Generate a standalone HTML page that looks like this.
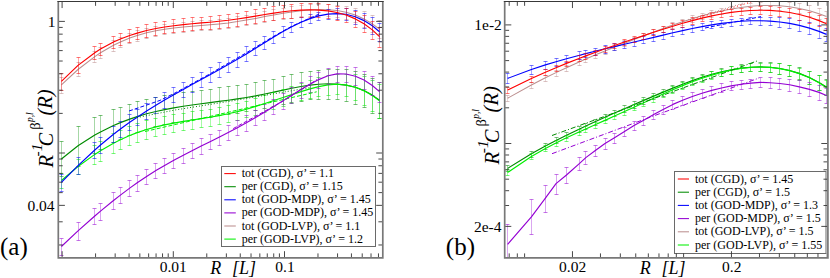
<!DOCTYPE html>
<html><head><meta charset="utf-8"><title>chart</title>
<style>html,body{margin:0;padding:0;background:#fff;}svg{display:block;}text{font-family:"Liberation Serif",serif;fill:#000;}</style></head>
<body><svg width="830" height="278" viewBox="0 0 830 278">
<rect width="830" height="278" fill="#fff"/>
<defs><clipPath id="cl"><rect x="58.3" y="1.45" width="324.5" height="256.4"/></clipPath><clipPath id="cr"><rect x="504.7" y="1.45" width="323.2" height="256.4"/></clipPath></defs>
<g clip-path="url(#cl)">
<path d="M61.5 141.5L61.5 176.5M78.5 126.5L78.5 166.5M94.5 117.5L94.5 153.5M100.5 115.5L100.5 149.5M113.5 109.5L113.5 142.5M120.5 107.5L120.5 139.5M129.5 104.5L129.5 135.5M137.5 101.5L137.5 132.5M146.5 99.5L146.5 129.5M155.5 97.5L155.5 126.5M164.5 95.5L164.5 124.5M173.5 94.5L173.5 122.5M183.5 92.5L183.5 121.5M192.5 91.5L192.5 119.5M201.5 90.5L201.5 118.5M210.5 89.5L210.5 117.5M219.5 87.5L219.5 115.5M228.5 86.5L228.5 114.5M237.5 85.5L237.5 113.5M246.5 84.5L246.5 111.5M255.5 82.5L255.5 110.5M264.5 80.5L264.5 108.5M273.5 79.5L273.5 106.5M283.5 76.5L283.5 104.5M291.5 74.5L291.5 102.5M301.5 72.5L301.5 101.5M310.5 71.5L310.5 99.5M318.5 70.5L318.5 99.5M328.5 69.5L328.5 99.5M337.5 69.5L337.5 99.5M346.5 69.5L346.5 101.5M355.5 71.5L355.5 104.5M364.5 74.5L364.5 107.5M372.5 78.5L372.5 113.5M379.5 82.5L379.5 118.5" stroke="#008b00" stroke-width="1" stroke-opacity="0.35" fill="none"/>
<path d="M59.5 141.5L63.5 141.5M59.5 176.5L63.5 176.5M76.5 126.5L80.5 126.5M76.5 166.5L80.5 166.5M92.5 117.5L96.5 117.5M92.5 153.5L96.5 153.5M98.5 115.5L102.5 115.5M98.5 149.5L102.5 149.5M111.5 109.5L115.5 109.5M111.5 142.5L115.5 142.5M118.5 107.5L122.5 107.5M118.5 139.5L122.5 139.5M127.5 104.5L131.5 104.5M127.5 135.5L131.5 135.5M135.5 101.5L139.5 101.5M135.5 132.5L139.5 132.5M144.5 99.5L148.5 99.5M144.5 129.5L148.5 129.5M153.5 97.5L157.5 97.5M153.5 126.5L157.5 126.5M162.5 95.5L166.5 95.5M162.5 124.5L166.5 124.5M171.5 94.5L175.5 94.5M171.5 122.5L175.5 122.5M181.5 92.5L185.5 92.5M181.5 121.5L185.5 121.5M190.5 91.5L194.5 91.5M190.5 119.5L194.5 119.5M199.5 90.5L203.5 90.5M199.5 118.5L203.5 118.5M208.5 89.5L212.5 89.5M208.5 117.5L212.5 117.5M217.5 87.5L221.5 87.5M217.5 115.5L221.5 115.5M226.5 86.5L230.5 86.5M226.5 114.5L230.5 114.5M235.5 85.5L239.5 85.5M235.5 113.5L239.5 113.5M244.5 84.5L248.5 84.5M244.5 111.5L248.5 111.5M253.5 82.5L257.5 82.5M253.5 110.5L257.5 110.5M262.5 80.5L266.5 80.5M262.5 108.5L266.5 108.5M271.5 79.5L275.5 79.5M271.5 106.5L275.5 106.5M281.5 76.5L285.5 76.5M281.5 104.5L285.5 104.5M289.5 74.5L293.5 74.5M289.5 102.5L293.5 102.5M299.5 72.5L303.5 72.5M299.5 101.5L303.5 101.5M308.5 71.5L312.5 71.5M308.5 99.5L312.5 99.5M316.5 70.5L320.5 70.5M316.5 99.5L320.5 99.5M326.5 69.5L330.5 69.5M326.5 99.5L330.5 99.5M335.5 69.5L339.5 69.5M335.5 99.5L339.5 99.5M344.5 69.5L348.5 69.5M344.5 101.5L348.5 101.5M353.5 71.5L357.5 71.5M353.5 104.5L357.5 104.5M362.5 74.5L366.5 74.5M362.5 107.5L366.5 107.5M370.5 78.5L374.5 78.5M370.5 113.5L374.5 113.5M377.5 82.5L381.5 82.5M377.5 118.5L381.5 118.5" stroke="#008b00" stroke-width="1" stroke-opacity="0.54" fill="none"/>
<path d="M61.4 159.0L78.0 145.8L94.8 135.0L100.5 131.9L113.5 125.5L120.4 122.6L129.7 119.1L137.2 116.6L146.6 113.8L155.9 111.5L164.6 109.6L173.8 107.9L183.3 106.3L192.0 105.0L201.2 103.7L210.0 102.6L219.0 101.4L228.2 100.2L237.4 98.9L246.4 97.5L255.6 95.9L264.9 94.0L273.8 92.1L283.0 90.1L291.8 88.2L301.0 86.5L310.0 85.1L318.7 84.2L328.0 83.8L337.0 84.1L346.0 85.1L355.4 87.3L364.0 90.6L372.3 95.1L379.5 100.3" stroke="#008b00" stroke-width="1.15" fill="none" stroke-linejoin="round"/>
<path d="M61.5 173.5L61.5 188.5M78.5 159.5L78.5 174.5M94.5 145.5L94.5 164.5M100.5 141.5L100.5 161.5M113.5 133.5L113.5 153.5M120.5 130.5L120.5 149.5M129.5 126.5L129.5 145.5M137.5 123.5L137.5 142.5M146.5 120.5L146.5 139.5M155.5 118.5L155.5 136.5M164.5 116.5L164.5 134.5M173.5 114.5L173.5 132.5M183.5 113.5L183.5 130.5M192.5 111.5L192.5 129.5M201.5 110.5L201.5 127.5M210.5 109.5L210.5 126.5M219.5 107.5L219.5 124.5M228.5 105.5L228.5 122.5M237.5 103.5L237.5 120.5M246.5 101.5L246.5 117.5M255.5 98.5L255.5 115.5M264.5 95.5L264.5 112.5M273.5 92.5L273.5 109.5M283.5 89.5L283.5 106.5M291.5 86.5L291.5 103.5M301.5 83.5L301.5 100.5M310.5 80.5L310.5 98.5M318.5 77.5L318.5 96.5M328.5 75.5L328.5 95.5M337.5 74.5L337.5 94.5M346.5 74.5L346.5 96.5M355.5 74.5L355.5 100.5M364.5 76.5L364.5 105.5M372.5 80.5L372.5 111.5M379.5 84.5L379.5 118.5" stroke="#00f000" stroke-width="1" stroke-opacity="0.35" fill="none"/>
<path d="M59.5 173.5L63.5 173.5M59.5 188.5L63.5 188.5M76.5 159.5L80.5 159.5M76.5 174.5L80.5 174.5M92.5 145.5L96.5 145.5M92.5 164.5L96.5 164.5M98.5 141.5L102.5 141.5M98.5 161.5L102.5 161.5M111.5 133.5L115.5 133.5M111.5 153.5L115.5 153.5M118.5 130.5L122.5 130.5M118.5 149.5L122.5 149.5M127.5 126.5L131.5 126.5M127.5 145.5L131.5 145.5M135.5 123.5L139.5 123.5M135.5 142.5L139.5 142.5M144.5 120.5L148.5 120.5M144.5 139.5L148.5 139.5M153.5 118.5L157.5 118.5M153.5 136.5L157.5 136.5M162.5 116.5L166.5 116.5M162.5 134.5L166.5 134.5M171.5 114.5L175.5 114.5M171.5 132.5L175.5 132.5M181.5 113.5L185.5 113.5M181.5 130.5L185.5 130.5M190.5 111.5L194.5 111.5M190.5 129.5L194.5 129.5M199.5 110.5L203.5 110.5M199.5 127.5L203.5 127.5M208.5 109.5L212.5 109.5M208.5 126.5L212.5 126.5M217.5 107.5L221.5 107.5M217.5 124.5L221.5 124.5M226.5 105.5L230.5 105.5M226.5 122.5L230.5 122.5M235.5 103.5L239.5 103.5M235.5 120.5L239.5 120.5M244.5 101.5L248.5 101.5M244.5 117.5L248.5 117.5M253.5 98.5L257.5 98.5M253.5 115.5L257.5 115.5M262.5 95.5L266.5 95.5M262.5 112.5L266.5 112.5M271.5 92.5L275.5 92.5M271.5 109.5L275.5 109.5M281.5 89.5L285.5 89.5M281.5 106.5L285.5 106.5M289.5 86.5L293.5 86.5M289.5 103.5L293.5 103.5M299.5 83.5L303.5 83.5M299.5 100.5L303.5 100.5M308.5 80.5L312.5 80.5M308.5 98.5L312.5 98.5M316.5 77.5L320.5 77.5M316.5 96.5L320.5 96.5M326.5 75.5L330.5 75.5M326.5 95.5L330.5 95.5M335.5 74.5L339.5 74.5M335.5 94.5L339.5 94.5M344.5 74.5L348.5 74.5M344.5 96.5L348.5 96.5M353.5 74.5L357.5 74.5M353.5 100.5L357.5 100.5M362.5 76.5L366.5 76.5M362.5 105.5L366.5 105.5M370.5 80.5L374.5 80.5M370.5 111.5L374.5 111.5M377.5 84.5L381.5 84.5M377.5 118.5L381.5 118.5" stroke="#00f000" stroke-width="1" stroke-opacity="0.54" fill="none"/>
<path d="M61.4 180.5L78.0 166.5L94.8 154.4L100.5 150.7L113.5 143.2L120.4 139.7L129.7 135.5L137.2 132.6L146.6 129.5L155.9 126.9L164.6 124.9L173.8 123.1L183.3 121.4L192.0 120.0L201.2 118.6L210.0 117.2L219.0 115.6L228.2 113.8L237.4 111.6L246.4 109.2L255.6 106.4L264.9 103.5L273.8 100.5L283.0 97.5L291.8 94.6L301.0 91.6L310.0 88.9L318.7 86.6L328.0 84.9L337.0 84.3L346.0 85.0L355.4 87.2L364.0 90.7L372.3 95.5L379.5 100.9" stroke="#00f000" stroke-width="1.15" fill="none" stroke-linejoin="round"/>
<path d="M61.5 238.5L61.5 255.5M78.5 222.5L78.5 240.5M94.5 208.5L94.5 224.5M100.5 203.5L100.5 220.5M113.5 192.5L113.5 209.5M120.5 187.5L120.5 203.5M129.5 180.5L129.5 196.5M137.5 175.5L137.5 191.5M146.5 169.5L146.5 184.5M155.5 163.5L155.5 178.5M164.5 158.5L164.5 173.5M173.5 153.5L173.5 168.5M183.5 148.5L183.5 163.5M192.5 143.5L192.5 158.5M201.5 138.5L201.5 154.5M210.5 134.5L210.5 149.5M219.5 130.5L219.5 145.5M228.5 125.5L228.5 140.5M237.5 120.5L237.5 135.5M246.5 115.5L246.5 131.5M255.5 110.5L255.5 125.5M264.5 104.5L264.5 120.5M273.5 99.5L273.5 114.5M283.5 93.5L283.5 109.5M291.5 87.5L291.5 103.5M301.5 82.5L301.5 98.5M310.5 76.5L310.5 92.5M318.5 72.5L318.5 88.5M328.5 68.5L328.5 84.5M337.5 66.5L337.5 82.5M346.5 66.5L346.5 82.5M355.5 67.5L355.5 85.5M364.5 71.5L364.5 89.5M372.5 76.5L372.5 95.5M379.5 82.5L379.5 102.5" stroke="#9400d3" stroke-width="1" stroke-opacity="0.35" fill="none"/>
<path d="M59.5 238.5L63.5 238.5M59.5 255.5L63.5 255.5M76.5 222.5L80.5 222.5M76.5 240.5L80.5 240.5M92.5 208.5L96.5 208.5M92.5 224.5L96.5 224.5M98.5 203.5L102.5 203.5M98.5 220.5L102.5 220.5M111.5 192.5L115.5 192.5M111.5 209.5L115.5 209.5M118.5 187.5L122.5 187.5M118.5 203.5L122.5 203.5M127.5 180.5L131.5 180.5M127.5 196.5L131.5 196.5M135.5 175.5L139.5 175.5M135.5 191.5L139.5 191.5M144.5 169.5L148.5 169.5M144.5 184.5L148.5 184.5M153.5 163.5L157.5 163.5M153.5 178.5L157.5 178.5M162.5 158.5L166.5 158.5M162.5 173.5L166.5 173.5M171.5 153.5L175.5 153.5M171.5 168.5L175.5 168.5M181.5 148.5L185.5 148.5M181.5 163.5L185.5 163.5M190.5 143.5L194.5 143.5M190.5 158.5L194.5 158.5M199.5 138.5L203.5 138.5M199.5 154.5L203.5 154.5M208.5 134.5L212.5 134.5M208.5 149.5L212.5 149.5M217.5 130.5L221.5 130.5M217.5 145.5L221.5 145.5M226.5 125.5L230.5 125.5M226.5 140.5L230.5 140.5M235.5 120.5L239.5 120.5M235.5 135.5L239.5 135.5M244.5 115.5L248.5 115.5M244.5 131.5L248.5 131.5M253.5 110.5L257.5 110.5M253.5 125.5L257.5 125.5M262.5 104.5L266.5 104.5M262.5 120.5L266.5 120.5M271.5 99.5L275.5 99.5M271.5 114.5L275.5 114.5M281.5 93.5L285.5 93.5M281.5 109.5L285.5 109.5M289.5 87.5L293.5 87.5M289.5 103.5L293.5 103.5M299.5 82.5L303.5 82.5M299.5 98.5L303.5 98.5M308.5 76.5L312.5 76.5M308.5 92.5L312.5 92.5M316.5 72.5L320.5 72.5M316.5 88.5L320.5 88.5M326.5 68.5L330.5 68.5M326.5 84.5L330.5 84.5M335.5 66.5L339.5 66.5M335.5 82.5L339.5 82.5M344.5 66.5L348.5 66.5M344.5 82.5L348.5 82.5M353.5 67.5L357.5 67.5M353.5 85.5L357.5 85.5M362.5 71.5L366.5 71.5M362.5 89.5L366.5 89.5M370.5 76.5L374.5 76.5M370.5 95.5L374.5 95.5M377.5 82.5L381.5 82.5M377.5 102.5L381.5 102.5" stroke="#9400d3" stroke-width="1" stroke-opacity="0.54" fill="none"/>
<path d="M61.4 246.5L78.0 230.9L94.8 216.0L100.5 211.1L113.5 200.5L120.4 195.1L129.7 188.1L137.2 182.7L146.6 176.4L155.9 170.6L164.6 165.4L173.8 160.3L183.3 155.2L192.0 150.7L201.2 146.1L210.0 141.7L219.0 137.2L228.2 132.5L237.4 127.7L246.4 122.8L255.6 117.5L264.9 112.0L273.8 106.5L283.0 100.8L291.8 95.3L301.0 89.6L310.0 84.2L318.7 79.6L328.0 75.8L337.0 73.9L346.0 74.0L355.4 76.2L364.0 80.1L372.3 85.5L379.5 91.6" stroke="#9400d3" stroke-width="1.15" fill="none" stroke-linejoin="round"/>
<path d="M61.5 77.5L61.5 93.5M78.5 62.5L78.5 76.5M94.5 51.5L94.5 62.5M100.5 47.5L100.5 58.5M113.5 40.5L113.5 51.5M120.5 37.5L120.5 47.5M129.5 33.5L129.5 43.5M137.5 30.5L137.5 41.5M146.5 28.5L146.5 38.5M155.5 26.5L155.5 36.5M164.5 24.5L164.5 34.5M173.5 23.5L173.5 33.5M183.5 22.5L183.5 32.5M192.5 21.5L192.5 31.5M201.5 20.5L201.5 30.5M210.5 20.5L210.5 30.5M219.5 19.5L219.5 29.5M228.5 18.5L228.5 28.5M237.5 16.5L237.5 27.5M246.5 15.5L246.5 25.5M255.5 13.5L255.5 24.5M264.5 11.5L264.5 22.5M273.5 9.5L273.5 20.5M283.5 8.5L283.5 19.5M291.5 6.5L291.5 18.5M301.5 5.5L301.5 16.5M310.5 4.5L310.5 16.5M318.5 4.5L318.5 15.5M328.5 4.5L328.5 16.5M337.5 5.5L337.5 17.5M346.5 6.5L346.5 19.5M355.5 8.5L355.5 22.5M364.5 11.5L364.5 27.5M372.5 15.5L372.5 32.5M379.5 20.5L379.5 38.5" stroke="#bc8f8f" stroke-width="1" stroke-opacity="0.35" fill="none"/>
<path d="M59.5 77.5L63.5 77.5M59.5 93.5L63.5 93.5M76.5 62.5L80.5 62.5M76.5 76.5L80.5 76.5M92.5 51.5L96.5 51.5M92.5 62.5L96.5 62.5M98.5 47.5L102.5 47.5M98.5 58.5L102.5 58.5M111.5 40.5L115.5 40.5M111.5 51.5L115.5 51.5M118.5 37.5L122.5 37.5M118.5 47.5L122.5 47.5M127.5 33.5L131.5 33.5M127.5 43.5L131.5 43.5M135.5 30.5L139.5 30.5M135.5 41.5L139.5 41.5M144.5 28.5L148.5 28.5M144.5 38.5L148.5 38.5M153.5 26.5L157.5 26.5M153.5 36.5L157.5 36.5M162.5 24.5L166.5 24.5M162.5 34.5L166.5 34.5M171.5 23.5L175.5 23.5M171.5 33.5L175.5 33.5M181.5 22.5L185.5 22.5M181.5 32.5L185.5 32.5M190.5 21.5L194.5 21.5M190.5 31.5L194.5 31.5M199.5 20.5L203.5 20.5M199.5 30.5L203.5 30.5M208.5 20.5L212.5 20.5M208.5 30.5L212.5 30.5M217.5 19.5L221.5 19.5M217.5 29.5L221.5 29.5M226.5 18.5L230.5 18.5M226.5 28.5L230.5 28.5M235.5 16.5L239.5 16.5M235.5 27.5L239.5 27.5M244.5 15.5L248.5 15.5M244.5 25.5L248.5 25.5M253.5 13.5L257.5 13.5M253.5 24.5L257.5 24.5M262.5 11.5L266.5 11.5M262.5 22.5L266.5 22.5M271.5 9.5L275.5 9.5M271.5 20.5L275.5 20.5M281.5 8.5L285.5 8.5M281.5 19.5L285.5 19.5M289.5 6.5L293.5 6.5M289.5 18.5L293.5 18.5M299.5 5.5L303.5 5.5M299.5 16.5L303.5 16.5M308.5 4.5L312.5 4.5M308.5 16.5L312.5 16.5M316.5 4.5L320.5 4.5M316.5 15.5L320.5 15.5M326.5 4.5L330.5 4.5M326.5 16.5L330.5 16.5M335.5 5.5L339.5 5.5M335.5 17.5L339.5 17.5M344.5 6.5L348.5 6.5M344.5 19.5L348.5 19.5M353.5 8.5L357.5 8.5M353.5 22.5L357.5 22.5M362.5 11.5L366.5 11.5M362.5 27.5L366.5 27.5M370.5 15.5L374.5 15.5M370.5 32.5L374.5 32.5M377.5 20.5L381.5 20.5M377.5 38.5L381.5 38.5" stroke="#bc8f8f" stroke-width="1" stroke-opacity="0.54" fill="none"/>
<path d="M61.4 84.9L78.0 69.5L94.8 56.6L100.5 52.8L113.5 45.3L120.4 42.0L129.7 38.1L137.2 35.5L146.6 32.8L155.9 30.8L164.6 29.2L173.8 28.0L183.3 26.9L192.0 26.2L201.2 25.4L210.0 24.7L219.0 23.9L228.2 22.9L237.4 21.6L246.4 20.1L255.6 18.4L264.9 16.6L273.8 14.9L283.0 13.3L291.8 11.9L301.0 10.7L310.0 9.9L318.7 9.6L328.0 9.8L337.0 10.6L346.0 12.3L355.4 15.1L364.0 18.9L372.3 23.8L379.5 29.2" stroke="#bc8f8f" stroke-width="1.05" fill="none" stroke-linejoin="round"/>
<path d="M61.5 174.5L61.5 191.5M78.5 157.5L78.5 174.5M94.5 142.5L94.5 158.5M100.5 137.5L100.5 153.5M113.5 126.5L113.5 142.5M120.5 121.5L120.5 137.5M129.5 114.5L129.5 130.5M137.5 109.5L137.5 125.5M146.5 103.5L146.5 119.5M155.5 97.5L155.5 113.5M164.5 92.5L164.5 108.5M173.5 87.5L173.5 102.5M183.5 82.5L183.5 97.5M192.5 77.5L192.5 92.5M201.5 72.5L201.5 87.5M210.5 67.5L210.5 82.5M219.5 62.5L219.5 77.5M228.5 57.5L228.5 72.5M237.5 52.5L237.5 67.5M246.5 46.5L246.5 61.5M255.5 41.5L255.5 55.5M264.5 36.5L264.5 49.5M273.5 31.5L273.5 43.5M283.5 26.5L283.5 37.5M291.5 22.5L291.5 32.5M301.5 17.5L301.5 27.5M310.5 14.5L310.5 23.5M318.5 12.5L318.5 20.5M328.5 9.5L328.5 19.5M337.5 8.5L337.5 19.5M346.5 8.5L346.5 20.5M355.5 10.5L355.5 24.5M364.5 13.5L364.5 28.5M372.5 17.5L372.5 34.5M379.5 23.5L379.5 41.5" stroke="#0000ff" stroke-width="1" stroke-opacity="0.35" fill="none"/>
<path d="M59.5 174.5L63.5 174.5M59.5 191.5L63.5 191.5M76.5 157.5L80.5 157.5M76.5 174.5L80.5 174.5M92.5 142.5L96.5 142.5M92.5 158.5L96.5 158.5M98.5 137.5L102.5 137.5M98.5 153.5L102.5 153.5M111.5 126.5L115.5 126.5M111.5 142.5L115.5 142.5M118.5 121.5L122.5 121.5M118.5 137.5L122.5 137.5M127.5 114.5L131.5 114.5M127.5 130.5L131.5 130.5M135.5 109.5L139.5 109.5M135.5 125.5L139.5 125.5M144.5 103.5L148.5 103.5M144.5 119.5L148.5 119.5M153.5 97.5L157.5 97.5M153.5 113.5L157.5 113.5M162.5 92.5L166.5 92.5M162.5 108.5L166.5 108.5M171.5 87.5L175.5 87.5M171.5 102.5L175.5 102.5M181.5 82.5L185.5 82.5M181.5 97.5L185.5 97.5M190.5 77.5L194.5 77.5M190.5 92.5L194.5 92.5M199.5 72.5L203.5 72.5M199.5 87.5L203.5 87.5M208.5 67.5L212.5 67.5M208.5 82.5L212.5 82.5M217.5 62.5L221.5 62.5M217.5 77.5L221.5 77.5M226.5 57.5L230.5 57.5M226.5 72.5L230.5 72.5M235.5 52.5L239.5 52.5M235.5 67.5L239.5 67.5M244.5 46.5L248.5 46.5M244.5 61.5L248.5 61.5M253.5 41.5L257.5 41.5M253.5 55.5L257.5 55.5M262.5 36.5L266.5 36.5M262.5 49.5L266.5 49.5M271.5 31.5L275.5 31.5M271.5 43.5L275.5 43.5M281.5 26.5L285.5 26.5M281.5 37.5L285.5 37.5M289.5 22.5L293.5 22.5M289.5 32.5L293.5 32.5M299.5 17.5L303.5 17.5M299.5 27.5L303.5 27.5M308.5 14.5L312.5 14.5M308.5 23.5L312.5 23.5M316.5 12.5L320.5 12.5M316.5 20.5L320.5 20.5M326.5 9.5L330.5 9.5M326.5 19.5L330.5 19.5M335.5 8.5L339.5 8.5M335.5 19.5L339.5 19.5M344.5 8.5L348.5 8.5M344.5 20.5L348.5 20.5M353.5 10.5L357.5 10.5M353.5 24.5L357.5 24.5M362.5 13.5L366.5 13.5M362.5 28.5L366.5 28.5M370.5 17.5L374.5 17.5M370.5 34.5L374.5 34.5M377.5 23.5L381.5 23.5M377.5 41.5L381.5 41.5" stroke="#0000ff" stroke-width="1" stroke-opacity="0.54" fill="none"/>
<path d="M61.4 182.4L78.0 165.7L94.8 150.0L100.5 145.0L113.5 134.3L120.4 129.0L129.7 122.3L137.2 117.2L146.6 111.0L155.9 105.2L164.6 100.0L173.8 94.7L183.3 89.4L192.0 84.6L201.2 79.6L210.0 74.8L219.0 69.8L228.2 64.6L237.4 59.3L246.4 54.0L255.6 48.3L264.9 42.4L273.8 37.0L283.0 31.5L291.8 26.7L301.0 22.3L310.0 18.6L318.7 15.9L328.0 14.1L337.0 13.6L346.0 14.3L355.4 16.8L364.0 20.6L372.3 25.8L379.5 31.7" stroke="#0000ff" stroke-width="1.15" fill="none" stroke-linejoin="round"/>
<path d="M61.5 73.5L61.5 90.5M78.5 57.5L78.5 73.5M94.5 46.5L94.5 59.5M100.5 43.5L100.5 55.5M113.5 36.5L113.5 48.5M120.5 33.5L120.5 45.5M129.5 29.5L129.5 42.5M137.5 27.5L137.5 39.5M146.5 24.5L146.5 37.5M155.5 22.5L155.5 35.5M164.5 21.5L164.5 33.5M173.5 19.5L173.5 32.5M183.5 18.5L183.5 31.5M192.5 17.5L192.5 30.5M201.5 17.5L201.5 29.5M210.5 16.5L210.5 29.5M219.5 15.5L219.5 28.5M228.5 14.5L228.5 27.5M237.5 13.5L237.5 26.5M246.5 11.5L246.5 24.5M255.5 9.5L255.5 23.5M264.5 8.5L264.5 21.5M273.5 6.5L273.5 20.5M283.5 5.5L283.5 18.5M291.5 4.5L291.5 18.5M301.5 3.5L301.5 17.5M310.5 3.5L310.5 17.5M318.5 3.5L318.5 17.5M328.5 4.5L328.5 18.5M337.5 6.5L337.5 20.5M346.5 8.5L346.5 22.5M355.5 11.5L355.5 27.5M364.5 15.5L364.5 32.5M372.5 21.5L372.5 39.5M379.5 27.5L379.5 47.5" stroke="#ff0000" stroke-width="1" stroke-opacity="0.35" fill="none"/>
<path d="M59.5 73.5L63.5 73.5M59.5 90.5L63.5 90.5M76.5 57.5L80.5 57.5M76.5 73.5L80.5 73.5M92.5 46.5L96.5 46.5M92.5 59.5L96.5 59.5M98.5 43.5L102.5 43.5M98.5 55.5L102.5 55.5M111.5 36.5L115.5 36.5M111.5 48.5L115.5 48.5M118.5 33.5L122.5 33.5M118.5 45.5L122.5 45.5M127.5 29.5L131.5 29.5M127.5 42.5L131.5 42.5M135.5 27.5L139.5 27.5M135.5 39.5L139.5 39.5M144.5 24.5L148.5 24.5M144.5 37.5L148.5 37.5M153.5 22.5L157.5 22.5M153.5 35.5L157.5 35.5M162.5 21.5L166.5 21.5M162.5 33.5L166.5 33.5M171.5 19.5L175.5 19.5M171.5 32.5L175.5 32.5M181.5 18.5L185.5 18.5M181.5 31.5L185.5 31.5M190.5 17.5L194.5 17.5M190.5 30.5L194.5 30.5M199.5 17.5L203.5 17.5M199.5 29.5L203.5 29.5M208.5 16.5L212.5 16.5M208.5 29.5L212.5 29.5M217.5 15.5L221.5 15.5M217.5 28.5L221.5 28.5M226.5 14.5L230.5 14.5M226.5 27.5L230.5 27.5M235.5 13.5L239.5 13.5M235.5 26.5L239.5 26.5M244.5 11.5L248.5 11.5M244.5 24.5L248.5 24.5M253.5 9.5L257.5 9.5M253.5 23.5L257.5 23.5M262.5 8.5L266.5 8.5M262.5 21.5L266.5 21.5M271.5 6.5L275.5 6.5M271.5 20.5L275.5 20.5M281.5 5.5L285.5 5.5M281.5 18.5L285.5 18.5M289.5 4.5L293.5 4.5M289.5 18.5L293.5 18.5M299.5 3.5L303.5 3.5M299.5 17.5L303.5 17.5M308.5 3.5L312.5 3.5M308.5 17.5L312.5 17.5M316.5 3.5L320.5 3.5M316.5 17.5L320.5 17.5M326.5 4.5L330.5 4.5M326.5 18.5L330.5 18.5M335.5 6.5L339.5 6.5M335.5 20.5L339.5 20.5M344.5 8.5L348.5 8.5M344.5 22.5L348.5 22.5M353.5 11.5L357.5 11.5M353.5 27.5L357.5 27.5M362.5 15.5L366.5 15.5M362.5 32.5L366.5 32.5M370.5 21.5L374.5 21.5M370.5 39.5L374.5 39.5M377.5 27.5L381.5 27.5M377.5 47.5L381.5 47.5" stroke="#ff0000" stroke-width="1" stroke-opacity="0.54" fill="none"/>
<path d="M61.4 81.4L78.0 65.4L94.8 52.7L100.5 49.1L113.5 42.1L120.4 39.0L129.7 35.5L137.2 33.1L146.6 30.5L155.9 28.5L164.6 27.0L173.8 25.7L183.3 24.6L192.0 23.8L201.2 22.9L210.0 22.2L219.0 21.3L228.2 20.3L237.4 19.0L246.4 17.6L255.6 16.1L264.9 14.5L273.8 13.1L283.0 11.8L291.8 10.8L301.0 10.1L310.0 9.8L318.7 10.1L328.0 10.9L337.0 12.5L346.0 15.0L355.4 18.9L364.0 23.8L372.3 29.9L379.5 36.6" stroke="#ff0000" stroke-width="1.15" fill="none" stroke-linejoin="round"/>
<path d="M129.0 111.0L145.0 105.6L160.0 100.4L175.0 93.0L207.0 75.5L247.0 52.4L273.0 36.7L291.8 26.2L309.0 18.6L321.0 13.2" stroke="#0000ff" stroke-width="1.00" stroke-dasharray="4 2" stroke-opacity="1.00" fill="none"/>
<path d="M137.0 117.6L175.0 110.0L232.0 100.9L310.0 87.6" stroke="#008b00" stroke-width="1.00" stroke-dasharray="1 2" stroke-opacity="1.00" fill="none"/>
<path d="M145.0 131.5L316.7 91.8" stroke="#00f000" stroke-width="1.00" stroke-dasharray="4 2" stroke-opacity="1.00" fill="none"/>
<path d="M233.2 128.6L281.8 101.8L317.0 79.6" stroke="#9400d3" stroke-width="1.00" stroke-dasharray="4 2" stroke-opacity="1.00" fill="none"/>
</g>
<g clip-path="url(#cr)">
<path d="M507.5 165.5L507.5 171.5M531.5 151.5L531.5 157.5M545.5 143.5L545.5 149.5M556.5 137.5L556.5 143.5M566.5 132.5L566.5 138.5M579.5 126.5L579.5 132.5M585.5 123.5L585.5 129.5M595.5 119.5L595.5 125.5M605.5 114.5L605.5 120.5M614.5 110.5L614.5 116.5M624.5 105.5L624.5 112.5M634.5 101.5L634.5 108.5M643.5 97.5L643.5 104.5M653.5 93.5L653.5 99.5M663.5 89.5L663.5 96.5M672.5 85.5L672.5 92.5M682.5 81.5L682.5 88.5M692.5 77.5L692.5 84.5M702.5 74.5L702.5 81.5M711.5 71.5L711.5 78.5M721.5 68.5L721.5 76.5M731.5 66.5L731.5 74.5M741.5 64.5L741.5 72.5M750.5 63.5L750.5 71.5M760.5 62.5L760.5 71.5M770.5 62.5L770.5 72.5M779.5 63.5L779.5 74.5M789.5 65.5L789.5 76.5M799.5 67.5L799.5 79.5M809.5 71.5L809.5 84.5M819.5 75.5L819.5 90.5M826.5 79.5L826.5 95.5" stroke="#008b00" stroke-width="1" stroke-opacity="0.35" fill="none"/>
<path d="M505.5 165.5L509.5 165.5M505.5 171.5L509.5 171.5M529.5 151.5L533.5 151.5M529.5 157.5L533.5 157.5M543.5 143.5L547.5 143.5M543.5 149.5L547.5 149.5M554.5 137.5L558.5 137.5M554.5 143.5L558.5 143.5M564.5 132.5L568.5 132.5M564.5 138.5L568.5 138.5M577.5 126.5L581.5 126.5M577.5 132.5L581.5 132.5M583.5 123.5L587.5 123.5M583.5 129.5L587.5 129.5M593.5 119.5L597.5 119.5M593.5 125.5L597.5 125.5M603.5 114.5L607.5 114.5M603.5 120.5L607.5 120.5M612.5 110.5L616.5 110.5M612.5 116.5L616.5 116.5M622.5 105.5L626.5 105.5M622.5 112.5L626.5 112.5M632.5 101.5L636.5 101.5M632.5 108.5L636.5 108.5M641.5 97.5L645.5 97.5M641.5 104.5L645.5 104.5M651.5 93.5L655.5 93.5M651.5 99.5L655.5 99.5M661.5 89.5L665.5 89.5M661.5 96.5L665.5 96.5M670.5 85.5L674.5 85.5M670.5 92.5L674.5 92.5M680.5 81.5L684.5 81.5M680.5 88.5L684.5 88.5M690.5 77.5L694.5 77.5M690.5 84.5L694.5 84.5M700.5 74.5L704.5 74.5M700.5 81.5L704.5 81.5M709.5 71.5L713.5 71.5M709.5 78.5L713.5 78.5M719.5 68.5L723.5 68.5M719.5 76.5L723.5 76.5M729.5 66.5L733.5 66.5M729.5 74.5L733.5 74.5M739.5 64.5L743.5 64.5M739.5 72.5L743.5 72.5M748.5 63.5L752.5 63.5M748.5 71.5L752.5 71.5M758.5 62.5L762.5 62.5M758.5 71.5L762.5 71.5M768.5 62.5L772.5 62.5M768.5 72.5L772.5 72.5M777.5 63.5L781.5 63.5M777.5 74.5L781.5 74.5M787.5 65.5L791.5 65.5M787.5 76.5L791.5 76.5M797.5 67.5L801.5 67.5M797.5 79.5L801.5 79.5M807.5 71.5L811.5 71.5M807.5 84.5L811.5 84.5M817.5 75.5L821.5 75.5M817.5 90.5L821.5 90.5M824.5 79.5L828.5 79.5M824.5 95.5L828.5 95.5" stroke="#008b00" stroke-width="1" stroke-opacity="0.54" fill="none"/>
<path d="M507.6 168.4L531.4 153.7L545.4 146.0L556.0 140.4L566.5 135.2L579.6 128.9L585.8 126.0L595.0 121.7L605.0 117.2L614.5 113.0L624.5 108.7L634.0 104.5L643.7 100.4L653.7 96.1L663.1 92.1L672.9 88.1L682.6 84.2L692.3 80.6L702.0 77.3L711.8 74.3L721.5 71.8L731.2 69.7L741.0 68.1L750.7 67.2L760.4 66.9L770.1 67.3L779.9 68.5L789.6 70.5L799.3 73.4L809.5 77.5L819.0 82.4L826.5 86.9" stroke="#008b00" stroke-width="1.15" fill="none" stroke-linejoin="round"/>
<path d="M507.5 169.5L507.5 175.5M531.5 153.5L531.5 159.5M545.5 145.5L545.5 151.5M556.5 140.5L556.5 146.5M566.5 135.5L566.5 141.5M579.5 129.5L579.5 135.5M585.5 126.5L585.5 132.5M595.5 122.5L595.5 128.5M605.5 117.5L605.5 123.5M614.5 113.5L614.5 119.5M624.5 108.5L624.5 115.5M634.5 104.5L634.5 110.5M643.5 99.5L643.5 106.5M653.5 95.5L653.5 102.5M663.5 91.5L663.5 97.5M672.5 86.5L672.5 93.5M682.5 82.5L682.5 89.5M692.5 78.5L692.5 85.5M702.5 75.5L702.5 82.5M711.5 71.5L711.5 79.5M721.5 69.5L721.5 76.5M731.5 66.5L731.5 74.5M741.5 65.5L741.5 72.5M750.5 63.5L750.5 71.5M760.5 63.5L760.5 71.5M770.5 63.5L770.5 72.5M779.5 63.5L779.5 74.5M789.5 65.5L789.5 76.5M799.5 68.5L799.5 80.5M809.5 71.5L809.5 84.5M819.5 75.5L819.5 90.5M826.5 80.5L826.5 95.5" stroke="#00f000" stroke-width="1" stroke-opacity="0.35" fill="none"/>
<path d="M505.5 169.5L509.5 169.5M505.5 175.5L509.5 175.5M529.5 153.5L533.5 153.5M529.5 159.5L533.5 159.5M543.5 145.5L547.5 145.5M543.5 151.5L547.5 151.5M554.5 140.5L558.5 140.5M554.5 146.5L558.5 146.5M564.5 135.5L568.5 135.5M564.5 141.5L568.5 141.5M577.5 129.5L581.5 129.5M577.5 135.5L581.5 135.5M583.5 126.5L587.5 126.5M583.5 132.5L587.5 132.5M593.5 122.5L597.5 122.5M593.5 128.5L597.5 128.5M603.5 117.5L607.5 117.5M603.5 123.5L607.5 123.5M612.5 113.5L616.5 113.5M612.5 119.5L616.5 119.5M622.5 108.5L626.5 108.5M622.5 115.5L626.5 115.5M632.5 104.5L636.5 104.5M632.5 110.5L636.5 110.5M641.5 99.5L645.5 99.5M641.5 106.5L645.5 106.5M651.5 95.5L655.5 95.5M651.5 102.5L655.5 102.5M661.5 91.5L665.5 91.5M661.5 97.5L665.5 97.5M670.5 86.5L674.5 86.5M670.5 93.5L674.5 93.5M680.5 82.5L684.5 82.5M680.5 89.5L684.5 89.5M690.5 78.5L694.5 78.5M690.5 85.5L694.5 85.5M700.5 75.5L704.5 75.5M700.5 82.5L704.5 82.5M709.5 71.5L713.5 71.5M709.5 79.5L713.5 79.5M719.5 69.5L723.5 69.5M719.5 76.5L723.5 76.5M729.5 66.5L733.5 66.5M729.5 74.5L733.5 74.5M739.5 65.5L743.5 65.5M739.5 72.5L743.5 72.5M748.5 63.5L752.5 63.5M748.5 71.5L752.5 71.5M758.5 63.5L762.5 63.5M758.5 71.5L762.5 71.5M768.5 63.5L772.5 63.5M768.5 72.5L772.5 72.5M777.5 63.5L781.5 63.5M777.5 74.5L781.5 74.5M787.5 65.5L791.5 65.5M787.5 76.5L791.5 76.5M797.5 68.5L801.5 68.5M797.5 80.5L801.5 80.5M807.5 71.5L811.5 71.5M807.5 84.5L811.5 84.5M817.5 75.5L821.5 75.5M817.5 90.5L821.5 90.5M824.5 80.5L828.5 80.5M824.5 95.5L828.5 95.5" stroke="#00f000" stroke-width="1" stroke-opacity="0.54" fill="none"/>
<path d="M507.6 172.5L531.4 156.5L545.4 148.5L556.0 143.0L566.5 137.8L579.6 131.7L585.8 128.9L595.0 124.8L605.0 120.4L614.5 116.1L624.5 111.6L634.0 107.2L643.7 102.8L653.7 98.2L663.1 94.0L672.9 89.7L682.6 85.6L692.3 81.8L702.0 78.3L711.8 75.1L721.5 72.4L731.2 70.1L741.0 68.4L750.7 67.4L760.4 67.0L770.1 67.4L779.9 68.6L789.6 70.6L799.3 73.6L809.5 77.8L819.0 82.7L826.5 87.4" stroke="#00f000" stroke-width="1.15" fill="none" stroke-linejoin="round"/>
<path d="M507.5 224.5L507.5 265.5M531.5 199.5L531.5 234.5M545.5 185.5L545.5 212.5M556.5 174.5L556.5 194.5M566.5 167.5L566.5 183.5M579.5 157.5L579.5 170.5M585.5 151.5L585.5 164.5M595.5 145.5L595.5 156.5M605.5 138.5L605.5 149.5M614.5 133.5L614.5 143.5M624.5 127.5L624.5 136.5M634.5 121.5L634.5 130.5M643.5 116.5L643.5 125.5M653.5 110.5L653.5 119.5M663.5 105.5L663.5 114.5M672.5 100.5L672.5 109.5M682.5 96.5L682.5 105.5M692.5 92.5L692.5 101.5M702.5 89.5L702.5 98.5M711.5 86.5L711.5 95.5M721.5 83.5L721.5 92.5M731.5 81.5L731.5 90.5M741.5 80.5L741.5 89.5M750.5 79.5L750.5 88.5M760.5 77.5L760.5 87.5M770.5 77.5L770.5 88.5M779.5 78.5L779.5 89.5M789.5 79.5L789.5 91.5M799.5 80.5L799.5 93.5M809.5 82.5L809.5 96.5M819.5 85.5L819.5 100.5M826.5 88.5L826.5 103.5" stroke="#9400d3" stroke-width="1" stroke-opacity="0.35" fill="none"/>
<path d="M505.5 224.5L509.5 224.5M505.5 265.5L509.5 265.5M529.5 199.5L533.5 199.5M529.5 234.5L533.5 234.5M543.5 185.5L547.5 185.5M543.5 212.5L547.5 212.5M554.5 174.5L558.5 174.5M554.5 194.5L558.5 194.5M564.5 167.5L568.5 167.5M564.5 183.5L568.5 183.5M577.5 157.5L581.5 157.5M577.5 170.5L581.5 170.5M583.5 151.5L587.5 151.5M583.5 164.5L587.5 164.5M593.5 145.5L597.5 145.5M593.5 156.5L597.5 156.5M603.5 138.5L607.5 138.5M603.5 149.5L607.5 149.5M612.5 133.5L616.5 133.5M612.5 143.5L616.5 143.5M622.5 127.5L626.5 127.5M622.5 136.5L626.5 136.5M632.5 121.5L636.5 121.5M632.5 130.5L636.5 130.5M641.5 116.5L645.5 116.5M641.5 125.5L645.5 125.5M651.5 110.5L655.5 110.5M651.5 119.5L655.5 119.5M661.5 105.5L665.5 105.5M661.5 114.5L665.5 114.5M670.5 100.5L674.5 100.5M670.5 109.5L674.5 109.5M680.5 96.5L684.5 96.5M680.5 105.5L684.5 105.5M690.5 92.5L694.5 92.5M690.5 101.5L694.5 101.5M700.5 89.5L704.5 89.5M700.5 98.5L704.5 98.5M709.5 86.5L713.5 86.5M709.5 95.5L713.5 95.5M719.5 83.5L723.5 83.5M719.5 92.5L723.5 92.5M729.5 81.5L733.5 81.5M729.5 90.5L733.5 90.5M739.5 80.5L743.5 80.5M739.5 89.5L743.5 89.5M748.5 79.5L752.5 79.5M748.5 88.5L752.5 88.5M758.5 77.5L762.5 77.5M758.5 87.5L762.5 87.5M768.5 77.5L772.5 77.5M768.5 88.5L772.5 88.5M777.5 78.5L781.5 78.5M777.5 89.5L781.5 89.5M787.5 79.5L791.5 79.5M787.5 91.5L791.5 91.5M797.5 80.5L801.5 80.5M797.5 93.5L801.5 93.5M807.5 82.5L811.5 82.5M807.5 96.5L811.5 96.5M817.5 85.5L821.5 85.5M817.5 100.5L821.5 100.5M824.5 88.5L828.5 88.5M824.5 103.5L828.5 103.5" stroke="#9400d3" stroke-width="1" stroke-opacity="0.54" fill="none"/>
<path d="M507.6 244.4L531.4 216.8L545.4 198.2L556.0 183.6L566.5 175.0L579.6 163.4L585.8 157.6L595.0 150.7L605.0 143.5L614.5 137.8L624.5 131.6L634.0 125.6L643.7 120.2L653.7 114.6L663.1 109.4L672.9 104.4L682.6 100.2L692.3 96.5L702.0 93.2L711.8 90.4L721.5 88.0L731.2 85.9L741.0 84.3L750.7 83.1L760.4 82.4L770.1 82.7L779.9 83.5L789.6 84.8L799.3 86.9L809.5 89.4L819.0 92.4L826.5 95.5" stroke="#9400d3" stroke-width="1.15" fill="none" stroke-linejoin="round"/>
<path d="M507.5 95.5L507.5 101.5M531.5 82.5L531.5 88.5M545.5 75.5L545.5 81.5M556.5 70.5L556.5 76.5M566.5 65.5L566.5 71.5M579.5 59.5L579.5 65.5M585.5 56.5L585.5 62.5M595.5 52.5L595.5 58.5M605.5 48.5L605.5 54.5M614.5 44.5L614.5 50.5M624.5 40.5L624.5 46.5M634.5 37.5L634.5 42.5M643.5 33.5L643.5 39.5M653.5 29.5L653.5 35.5M663.5 26.5L663.5 32.5M672.5 22.5L672.5 28.5M682.5 19.5L682.5 25.5M692.5 15.5L692.5 22.5M702.5 13.5L702.5 19.5M711.5 10.5L711.5 17.5M721.5 8.5L721.5 14.5M731.5 6.5L731.5 12.5M741.5 4.5L741.5 11.5M750.5 3.5L750.5 10.5M760.5 2.5L760.5 9.5M770.5 1.5L770.5 10.5M779.5 1.5L779.5 10.5M789.5 2.5L789.5 12.5M799.5 3.5L799.5 13.5M809.5 5.5L809.5 16.5M819.5 8.5L819.5 19.5M826.5 11.5L826.5 22.5" stroke="#bc8f8f" stroke-width="1" stroke-opacity="0.35" fill="none"/>
<path d="M505.5 95.5L509.5 95.5M505.5 101.5L509.5 101.5M529.5 82.5L533.5 82.5M529.5 88.5L533.5 88.5M543.5 75.5L547.5 75.5M543.5 81.5L547.5 81.5M554.5 70.5L558.5 70.5M554.5 76.5L558.5 76.5M564.5 65.5L568.5 65.5M564.5 71.5L568.5 71.5M577.5 59.5L581.5 59.5M577.5 65.5L581.5 65.5M583.5 56.5L587.5 56.5M583.5 62.5L587.5 62.5M593.5 52.5L597.5 52.5M593.5 58.5L597.5 58.5M603.5 48.5L607.5 48.5M603.5 54.5L607.5 54.5M612.5 44.5L616.5 44.5M612.5 50.5L616.5 50.5M622.5 40.5L626.5 40.5M622.5 46.5L626.5 46.5M632.5 37.5L636.5 37.5M632.5 42.5L636.5 42.5M641.5 33.5L645.5 33.5M641.5 39.5L645.5 39.5M651.5 29.5L655.5 29.5M651.5 35.5L655.5 35.5M661.5 26.5L665.5 26.5M661.5 32.5L665.5 32.5M670.5 22.5L674.5 22.5M670.5 28.5L674.5 28.5M680.5 19.5L684.5 19.5M680.5 25.5L684.5 25.5M690.5 15.5L694.5 15.5M690.5 22.5L694.5 22.5M700.5 13.5L704.5 13.5M700.5 19.5L704.5 19.5M709.5 10.5L713.5 10.5M709.5 17.5L713.5 17.5M719.5 8.5L723.5 8.5M719.5 14.5L723.5 14.5M729.5 6.5L733.5 6.5M729.5 12.5L733.5 12.5M739.5 4.5L743.5 4.5M739.5 11.5L743.5 11.5M748.5 3.5L752.5 3.5M748.5 10.5L752.5 10.5M758.5 2.5L762.5 2.5M758.5 9.5L762.5 9.5M768.5 1.5L772.5 1.5M768.5 10.5L772.5 10.5M777.5 1.5L781.5 1.5M777.5 10.5L781.5 10.5M787.5 2.5L791.5 2.5M787.5 12.5L791.5 12.5M797.5 3.5L801.5 3.5M797.5 13.5L801.5 13.5M807.5 5.5L811.5 5.5M807.5 16.5L811.5 16.5M817.5 8.5L821.5 8.5M817.5 19.5L821.5 19.5M824.5 11.5L828.5 11.5M824.5 22.5L828.5 22.5" stroke="#bc8f8f" stroke-width="1" stroke-opacity="0.54" fill="none"/>
<path d="M507.6 98.2L531.4 85.0L545.4 77.8L556.0 72.6L566.5 67.7L579.6 61.8L585.8 59.1L595.0 55.1L605.0 51.0L614.5 47.1L624.5 43.2L634.0 39.5L643.7 35.8L653.7 32.1L663.1 28.6L672.9 25.1L682.6 21.8L692.3 18.7L702.0 15.8L711.8 13.2L721.5 10.9L731.2 9.0L741.0 7.4L750.7 6.3L760.4 5.6L770.1 5.4L779.9 5.8L789.6 6.8L799.3 8.4L809.5 10.8L819.0 13.7L826.5 16.5" stroke="#bc8f8f" stroke-width="1.05" fill="none" stroke-linejoin="round"/>
<path d="M507.5 73.5L507.5 83.5M531.5 65.5L531.5 74.5M545.5 61.5L545.5 69.5M556.5 58.5L556.5 66.5M566.5 55.5L566.5 62.5M579.5 51.5L579.5 59.5M585.5 50.5L585.5 57.5M595.5 48.5L595.5 55.5M605.5 45.5L605.5 53.5M614.5 43.5L614.5 50.5M624.5 41.5L624.5 48.5M634.5 38.5L634.5 46.5M643.5 36.5L643.5 43.5M653.5 34.5L653.5 41.5M663.5 32.5L663.5 39.5M672.5 29.5L672.5 36.5M682.5 27.5L682.5 34.5M692.5 25.5L692.5 32.5M702.5 23.5L702.5 30.5M711.5 21.5L711.5 28.5M721.5 20.5L721.5 27.5M731.5 19.5L731.5 26.5M741.5 18.5L741.5 25.5M750.5 17.5L750.5 24.5M760.5 17.5L760.5 25.5M770.5 17.5L770.5 25.5M779.5 17.5L779.5 27.5M789.5 18.5L789.5 28.5M799.5 20.5L799.5 31.5M809.5 22.5L809.5 34.5M819.5 25.5L819.5 38.5M826.5 28.5L826.5 41.5" stroke="#0000ff" stroke-width="1" stroke-opacity="0.35" fill="none"/>
<path d="M505.5 73.5L509.5 73.5M505.5 83.5L509.5 83.5M529.5 65.5L533.5 65.5M529.5 74.5L533.5 74.5M543.5 61.5L547.5 61.5M543.5 69.5L547.5 69.5M554.5 58.5L558.5 58.5M554.5 66.5L558.5 66.5M564.5 55.5L568.5 55.5M564.5 62.5L568.5 62.5M577.5 51.5L581.5 51.5M577.5 59.5L581.5 59.5M583.5 50.5L587.5 50.5M583.5 57.5L587.5 57.5M593.5 48.5L597.5 48.5M593.5 55.5L597.5 55.5M603.5 45.5L607.5 45.5M603.5 53.5L607.5 53.5M612.5 43.5L616.5 43.5M612.5 50.5L616.5 50.5M622.5 41.5L626.5 41.5M622.5 48.5L626.5 48.5M632.5 38.5L636.5 38.5M632.5 46.5L636.5 46.5M641.5 36.5L645.5 36.5M641.5 43.5L645.5 43.5M651.5 34.5L655.5 34.5M651.5 41.5L655.5 41.5M661.5 32.5L665.5 32.5M661.5 39.5L665.5 39.5M670.5 29.5L674.5 29.5M670.5 36.5L674.5 36.5M680.5 27.5L684.5 27.5M680.5 34.5L684.5 34.5M690.5 25.5L694.5 25.5M690.5 32.5L694.5 32.5M700.5 23.5L704.5 23.5M700.5 30.5L704.5 30.5M709.5 21.5L713.5 21.5M709.5 28.5L713.5 28.5M719.5 20.5L723.5 20.5M719.5 27.5L723.5 27.5M729.5 19.5L733.5 19.5M729.5 26.5L733.5 26.5M739.5 18.5L743.5 18.5M739.5 25.5L743.5 25.5M748.5 17.5L752.5 17.5M748.5 24.5L752.5 24.5M758.5 17.5L762.5 17.5M758.5 25.5L762.5 25.5M768.5 17.5L772.5 17.5M768.5 25.5L772.5 25.5M777.5 17.5L781.5 17.5M777.5 27.5L781.5 27.5M787.5 18.5L791.5 18.5M787.5 28.5L791.5 28.5M797.5 20.5L801.5 20.5M797.5 31.5L801.5 31.5M807.5 22.5L811.5 22.5M807.5 34.5L811.5 34.5M817.5 25.5L821.5 25.5M817.5 38.5L821.5 38.5M824.5 28.5L828.5 28.5M824.5 41.5L828.5 41.5" stroke="#0000ff" stroke-width="1" stroke-opacity="0.54" fill="none"/>
<path d="M507.6 78.4L531.4 69.5L545.4 64.9L556.0 61.7L566.5 58.7L579.6 55.2L585.8 53.6L595.0 51.2L605.0 48.8L614.5 46.6L624.5 44.2L634.0 42.0L643.7 39.7L653.7 37.4L663.1 35.1L672.9 32.8L682.6 30.6L692.3 28.5L702.0 26.6L711.8 24.9L721.5 23.4L731.2 22.2L741.0 21.3L750.7 20.8L760.4 20.7L770.1 21.1L779.9 22.0L789.6 23.4L799.3 25.4L809.5 28.1L819.0 31.4L826.5 34.4" stroke="#0000ff" stroke-width="1.15" fill="none" stroke-linejoin="round"/>
<path d="M507.5 87.5L507.5 93.5M531.5 76.5L531.5 82.5M545.5 69.5L545.5 75.5M556.5 65.5L556.5 71.5M566.5 61.5L566.5 66.5M579.5 55.5L579.5 61.5M585.5 53.5L585.5 59.5M595.5 50.5L595.5 55.5M605.5 46.5L605.5 52.5M614.5 43.5L614.5 48.5M624.5 39.5L624.5 45.5M634.5 36.5L634.5 42.5M643.5 33.5L643.5 39.5M653.5 29.5L653.5 35.5M663.5 26.5L663.5 32.5M672.5 23.5L672.5 29.5M682.5 20.5L682.5 27.5M692.5 17.5L692.5 24.5M702.5 15.5L702.5 21.5M711.5 12.5L711.5 19.5M721.5 11.5L721.5 17.5M731.5 9.5L731.5 16.5M741.5 8.5L741.5 15.5M750.5 7.5L750.5 14.5M760.5 6.5L760.5 14.5M770.5 6.5L770.5 15.5M779.5 7.5L779.5 16.5M789.5 8.5L789.5 17.5M799.5 9.5L799.5 20.5M809.5 12.5L809.5 23.5M819.5 15.5L819.5 26.5M826.5 18.5L826.5 30.5" stroke="#ff0000" stroke-width="1" stroke-opacity="0.35" fill="none"/>
<path d="M505.5 87.5L509.5 87.5M505.5 93.5L509.5 93.5M529.5 76.5L533.5 76.5M529.5 82.5L533.5 82.5M543.5 69.5L547.5 69.5M543.5 75.5L547.5 75.5M554.5 65.5L558.5 65.5M554.5 71.5L558.5 71.5M564.5 61.5L568.5 61.5M564.5 66.5L568.5 66.5M577.5 55.5L581.5 55.5M577.5 61.5L581.5 61.5M583.5 53.5L587.5 53.5M583.5 59.5L587.5 59.5M593.5 50.5L597.5 50.5M593.5 55.5L597.5 55.5M603.5 46.5L607.5 46.5M603.5 52.5L607.5 52.5M612.5 43.5L616.5 43.5M612.5 48.5L616.5 48.5M622.5 39.5L626.5 39.5M622.5 45.5L626.5 45.5M632.5 36.5L636.5 36.5M632.5 42.5L636.5 42.5M641.5 33.5L645.5 33.5M641.5 39.5L645.5 39.5M651.5 29.5L655.5 29.5M651.5 35.5L655.5 35.5M661.5 26.5L665.5 26.5M661.5 32.5L665.5 32.5M670.5 23.5L674.5 23.5M670.5 29.5L674.5 29.5M680.5 20.5L684.5 20.5M680.5 27.5L684.5 27.5M690.5 17.5L694.5 17.5M690.5 24.5L694.5 24.5M700.5 15.5L704.5 15.5M700.5 21.5L704.5 21.5M709.5 12.5L713.5 12.5M709.5 19.5L713.5 19.5M719.5 11.5L723.5 11.5M719.5 17.5L723.5 17.5M729.5 9.5L733.5 9.5M729.5 16.5L733.5 16.5M739.5 8.5L743.5 8.5M739.5 15.5L743.5 15.5M748.5 7.5L752.5 7.5M748.5 14.5L752.5 14.5M758.5 6.5L762.5 6.5M758.5 14.5L762.5 14.5M768.5 6.5L772.5 6.5M768.5 15.5L772.5 15.5M777.5 7.5L781.5 7.5M777.5 16.5L781.5 16.5M787.5 8.5L791.5 8.5M787.5 17.5L791.5 17.5M797.5 9.5L801.5 9.5M797.5 20.5L801.5 20.5M807.5 12.5L811.5 12.5M807.5 23.5L811.5 23.5M817.5 15.5L821.5 15.5M817.5 26.5L821.5 26.5M824.5 18.5L828.5 18.5M824.5 30.5L828.5 30.5" stroke="#ff0000" stroke-width="1" stroke-opacity="0.54" fill="none"/>
<path d="M507.6 90.1L531.4 78.6L545.4 72.3L556.0 67.8L566.5 63.4L579.6 58.3L585.8 55.9L595.0 52.5L605.0 48.8L614.5 45.5L624.5 42.0L634.0 38.8L643.7 35.6L653.7 32.3L663.1 29.2L672.9 26.2L682.6 23.3L692.3 20.6L702.0 18.1L711.8 15.9L721.5 14.0L731.2 12.4L741.0 11.2L750.7 10.5L760.4 10.2L770.1 10.4L779.9 11.2L789.6 12.5L799.3 14.5L809.5 17.3L819.0 20.6L826.5 23.8" stroke="#ff0000" stroke-width="1.15" fill="none" stroke-linejoin="round"/>
<path d="M690.0 20.2L752.5 1.6" stroke="#ff0000" stroke-width="1.00" stroke-dasharray="1 2.5" stroke-opacity="1.00" fill="none"/>
<path d="M688.0 19.6L745.0 2.6" stroke="#bc8f8f" stroke-width="1.00" stroke-dasharray="1 2.5" stroke-opacity="1.00" fill="none"/>
<path d="M705.0 28.0L761.0 16.6" stroke="#0000ff" stroke-width="1.00" stroke-dasharray="4 2" stroke-opacity="1.00" fill="none"/>
<path d="M552.0 135.5L757.0 61.0" stroke="#008b00" stroke-width="1.00" stroke-dasharray="5 2 1 2" stroke-opacity="1.00" fill="none"/>
<path d="M552.0 153.7L654.4 115.6L759.2 78.0" stroke="#9400d3" stroke-width="1.00" stroke-dasharray="5 2 1 2" stroke-opacity="1.00" fill="none"/>
</g>
<text transform="translate(55.60 26.60) scale(1.000 1)" font-size="15.5" text-anchor="end"  >1</text>
<text transform="translate(54.50 210.60) scale(1.000 1)" font-size="15.5" text-anchor="end"  >0.04</text>
<text transform="translate(173.30 271.80) scale(1.000 1)" font-size="15.5" text-anchor="middle"  >0.01</text>
<text transform="translate(285.00 271.80) scale(1.000 1)" font-size="15.5" text-anchor="middle"  >0.1</text>
<text transform="translate(501.80 30.20) scale(1.000 1)" font-size="15.5" text-anchor="end"  >1e-2</text>
<text transform="translate(501.50 231.70) scale(1.000 1)" font-size="15.5" text-anchor="end"  >2e-4</text>
<text transform="translate(572.60 271.80) scale(1.000 1)" font-size="15.5" text-anchor="middle"  >0.02</text>
<text transform="translate(731.80 271.80) scale(1.000 1)" font-size="15.5" text-anchor="middle"  >0.2</text>
<text transform="translate(210.30 273.60) scale(1.000 1)" font-size="18.0" text-anchor="start" font-style="italic" >R</text>
<text transform="translate(232.00 273.60) scale(1.000 1)" font-size="18.0" text-anchor="start" font-style="italic" >[L]</text>
<text transform="translate(639.80 273.60) scale(1.000 1)" font-size="18.0" text-anchor="start" font-style="italic" >R</text>
<text transform="translate(661.50 273.60) scale(1.000 1)" font-size="18.0" text-anchor="start" font-style="italic" >[L]</text>
<text transform="translate(0.00 255.00) scale(1.000 1)" font-size="25.0" text-anchor="start"  >(a)</text>
<text transform="translate(445.80 255.00) scale(1.000 1)" font-size="25.0" text-anchor="start"  >(b)</text>
<text transform="translate(52.8 167.6) rotate(-90)" font-size="20.5" font-style="italic">R</text>
<text transform="translate(42.1 156.4) rotate(-90)" font-size="15.5" font-style="italic">-1</text>
<text transform="translate(52.8 146.4) rotate(-90)" font-size="20.5" font-style="italic">C</text>
<text transform="translate(39.9 129.7) rotate(-90)" font-size="14.5" font-style="normal">β</text>
<text transform="translate(32.8 122.0) rotate(-90)" font-size="9.5" font-style="italic">p,l</text>
<text transform="translate(51.8 115.6) rotate(-90)" font-size="20.5" font-style="italic">(R)</text>
<text transform="translate(498.5 164.4) rotate(-90)" font-size="20.5" font-style="italic">R</text>
<text transform="translate(487.8 153.2) rotate(-90)" font-size="15.5" font-style="italic">-1</text>
<text transform="translate(498.5 143.2) rotate(-90)" font-size="20.5" font-style="italic">C</text>
<text transform="translate(485.6 126.5) rotate(-90)" font-size="14.5" font-style="normal">β</text>
<text transform="translate(478.5 118.8) rotate(-90)" font-size="9.5" font-style="italic">p,l</text>
<text transform="translate(497.5 112.4) rotate(-90)" font-size="20.5" font-style="italic">(R)</text>
<rect x="221.5" y="166.5" width="154.0" height="80.0" fill="#fff" stroke="#6a6a6a" stroke-width="1"/>
<path d="M224.3 173.6L235.8 173.6" stroke="#ff0000" stroke-width="1.05"/>
<text transform="translate(241.70 177.10) scale(1.000 1)" font-size="12.0" text-anchor="start"  >tot (CGD), σ’ = 1.1</text>
<path d="M224.3 186.7L235.8 186.7" stroke="#008b00" stroke-width="1.05"/>
<text transform="translate(241.70 190.20) scale(1.000 1)" font-size="12.0" text-anchor="start"  >per (CGD), σ’ = 1.15</text>
<path d="M224.3 199.8L235.8 199.8" stroke="#0000ff" stroke-width="1.05"/>
<text transform="translate(241.70 203.30) scale(1.000 1)" font-size="12.0" text-anchor="start"  >tot (GOD-MDP), σ’ = 1.45</text>
<path d="M224.3 212.9L235.8 212.9" stroke="#9400d3" stroke-width="1.05"/>
<text transform="translate(241.70 216.40) scale(1.000 1)" font-size="12.0" text-anchor="start"  >per (GOD-MDP), σ’ = 1.45</text>
<path d="M224.3 226.0L235.8 226.0" stroke="#bc8f8f" stroke-width="1.05"/>
<text transform="translate(241.70 229.50) scale(1.000 1)" font-size="12.0" text-anchor="start"  >tot (GOD-LVP), σ’ = 1.1</text>
<path d="M224.3 239.1L235.8 239.1" stroke="#00f000" stroke-width="1.05"/>
<text transform="translate(241.70 242.60) scale(1.000 1)" font-size="12.0" text-anchor="start"  >per (GOD-LVP), σ’ = 1.2</text>
<rect x="674.5" y="171.5" width="151.5" height="82.0" fill="#fff" stroke="#6a6a6a" stroke-width="1"/>
<path d="M677.8 179.0L689.0 179.0" stroke="#ff0000" stroke-width="1.05"/>
<text transform="translate(695.00 182.50) scale(1.000 1)" font-size="12.0" text-anchor="start"  >tot (CGD), σ’ = 1.45</text>
<path d="M677.8 192.2L689.0 192.2" stroke="#008b00" stroke-width="1.05"/>
<text transform="translate(695.00 195.70) scale(1.000 1)" font-size="12.0" text-anchor="start"  >per (CGD), σ’ = 1.5</text>
<path d="M677.8 205.4L689.0 205.4" stroke="#0000ff" stroke-width="1.05"/>
<text transform="translate(695.00 208.90) scale(1.000 1)" font-size="12.0" text-anchor="start"  >tot (GOD-MDP), σ’ = 1.3</text>
<path d="M677.8 218.6L689.0 218.6" stroke="#9400d3" stroke-width="1.05"/>
<text transform="translate(695.00 222.10) scale(1.000 1)" font-size="12.0" text-anchor="start"  >per (GOD-MDP), σ’ = 1.5</text>
<path d="M677.8 231.8L689.0 231.8" stroke="#bc8f8f" stroke-width="1.05"/>
<text transform="translate(695.00 235.30) scale(1.000 1)" font-size="12.0" text-anchor="start"  >tot (GOD-LVP), σ’ = 1.5</text>
<path d="M677.8 245.0L689.0 245.0" stroke="#00f000" stroke-width="1.05"/>
<text transform="translate(695.00 248.50) scale(1.000 1)" font-size="12.0" text-anchor="start"  >per (GOD-LVP), σ’ = 1.55</text>
<path d="M62.10 1.45L62.10 8.05M62.10 257.80L62.10 251.20M95.57 1.45L95.57 5.85M95.57 257.80L95.57 253.40M115.16 1.45L115.16 5.85M115.16 257.80L115.16 253.40M129.05 1.45L129.05 5.85M129.05 257.80L129.05 253.40M139.83 1.45L139.83 5.85M139.83 257.80L139.83 253.40M148.63 1.45L148.63 5.85M148.63 257.80L148.63 253.40M156.07 1.45L156.07 5.85M156.07 257.80L156.07 253.40M162.52 1.45L162.52 5.85M162.52 257.80L162.52 253.40M168.21 1.45L168.21 5.85M168.21 257.80L168.21 253.40M173.30 1.45L173.30 8.05M173.30 257.80L173.30 251.20M206.77 1.45L206.77 5.85M206.77 257.80L206.77 253.40M226.36 1.45L226.36 5.85M226.36 257.80L226.36 253.40M240.25 1.45L240.25 5.85M240.25 257.80L240.25 253.40M251.03 1.45L251.03 5.85M251.03 257.80L251.03 253.40M259.83 1.45L259.83 5.85M259.83 257.80L259.83 253.40M267.27 1.45L267.27 5.85M267.27 257.80L267.27 253.40M273.72 1.45L273.72 5.85M273.72 257.80L273.72 253.40M279.41 1.45L279.41 5.85M279.41 257.80L279.41 253.40M284.50 1.45L284.50 8.05M284.50 257.80L284.50 251.20M317.97 1.45L317.97 5.85M317.97 257.80L317.97 253.40M337.56 1.45L337.56 5.85M337.56 257.80L337.56 253.40M351.45 1.45L351.45 5.85M351.45 257.80L351.45 253.40M362.23 1.45L362.23 5.85M362.23 257.80L362.23 253.40M371.03 1.45L371.03 5.85M371.03 257.80L371.03 253.40M378.47 1.45L378.47 5.85M378.47 257.80L378.47 253.40M58.30 244.98L62.70 244.98M382.80 244.98L378.40 244.98M58.30 221.81L62.70 221.81M382.80 221.81L378.40 221.81M58.30 205.37L64.90 205.37M382.80 205.37L376.20 205.37M58.30 192.62L62.70 192.62M382.80 192.62L378.40 192.62M58.30 182.20L62.70 182.20M382.80 182.20L378.40 182.20M58.30 173.39L62.70 173.39M382.80 173.39L378.40 173.39M58.30 165.75L62.70 165.75M382.80 165.75L378.40 165.75M58.30 159.02L62.70 159.02M382.80 159.02L378.40 159.02M58.30 153.00L64.90 153.00M382.80 153.00L376.20 153.00M58.30 113.38L62.70 113.38M382.80 113.38L378.40 113.38M58.30 90.21L62.70 90.21M382.80 90.21L378.40 90.21M58.30 73.77L62.70 73.77M382.80 73.77L378.40 73.77M58.30 61.02L62.70 61.02M382.80 61.02L378.40 61.02M58.30 50.60L62.70 50.60M382.80 50.60L378.40 50.60M58.30 41.79L62.70 41.79M382.80 41.79L378.40 41.79M58.30 34.15L62.70 34.15M382.80 34.15L378.40 34.15M58.30 27.42L62.70 27.42M382.80 27.42L378.40 27.42M58.30 21.40L64.90 21.40M382.80 21.40L376.20 21.40" stroke="#333" stroke-width="0.9" fill="none"/>
<path d="M58.30 0.95L58.30 257.80L382.80 257.80L382.80 0.95" fill="none" stroke="#787878" stroke-width="1.7" stroke-linejoin="miter"/>
<path d="M57.45 1.45L383.65 1.45" fill="none" stroke="#383838" stroke-width="1.15"/>
<path d="M509.19 1.45L509.19 5.85M509.19 257.80L509.19 253.40M517.32 1.45L517.32 5.85M517.32 257.80L517.32 253.40M524.60 1.45L524.60 5.85M524.60 257.80L524.60 253.40M572.46 1.45L572.46 8.05M572.46 257.80L572.46 251.20M600.46 1.45L600.46 5.85M600.46 257.80L600.46 253.40M620.33 1.45L620.33 5.85M620.33 257.80L620.33 253.40M635.74 1.45L635.74 5.85M635.74 257.80L635.74 253.40M648.33 1.45L648.33 5.85M648.33 257.80L648.33 253.40M658.97 1.45L658.97 5.85M658.97 257.80L658.97 253.40M668.19 1.45L668.19 5.85M668.19 257.80L668.19 253.40M676.32 1.45L676.32 5.85M676.32 257.80L676.32 253.40M683.60 1.45L683.60 5.85M683.60 257.80L683.60 253.40M731.46 1.45L731.46 8.05M731.46 257.80L731.46 251.20M759.46 1.45L759.46 5.85M759.46 257.80L759.46 253.40M779.33 1.45L779.33 5.85M779.33 257.80L779.33 253.40M794.74 1.45L794.74 5.85M794.74 257.80L794.74 253.40M807.33 1.45L807.33 5.85M807.33 257.80L807.33 253.40M817.97 1.45L817.97 5.85M817.97 257.80L817.97 253.40M827.19 1.45L827.19 5.85M827.19 257.80L827.19 253.40M504.70 226.40L511.30 226.40M827.90 226.40L821.30 226.40M504.70 205.51L509.10 205.51M827.90 205.51L823.50 205.51M504.70 190.70L509.10 190.70M827.90 190.70L823.50 190.70M504.70 179.20L509.10 179.20M827.90 179.20L823.50 179.20M504.70 169.81L509.10 169.81M827.90 169.81L823.50 169.81M504.70 161.87L509.10 161.87M827.90 161.87L823.50 161.87M504.70 154.99L509.10 154.99M827.90 154.99L823.50 154.99M504.70 148.93L509.10 148.93M827.90 148.93L823.50 148.93M504.70 143.50L511.30 143.50M827.90 143.50L821.30 143.50M504.70 107.80L509.10 107.80M827.90 107.80L823.50 107.80M504.70 86.91L509.10 86.91M827.90 86.91L823.50 86.91M504.70 72.10L509.10 72.10M827.90 72.10L823.50 72.10M504.70 60.60L509.10 60.60M827.90 60.60L823.50 60.60M504.70 51.21L509.10 51.21M827.90 51.21L823.50 51.21M504.70 43.27L509.10 43.27M827.90 43.27L823.50 43.27M504.70 36.39L509.10 36.39M827.90 36.39L823.50 36.39M504.70 30.33L509.10 30.33M827.90 30.33L823.50 30.33M504.70 24.90L511.30 24.90M827.90 24.90L821.30 24.90" stroke="#333" stroke-width="0.9" fill="none"/>
<path d="M504.70 0.95L504.70 257.80L827.90 257.80L827.90 0.95" fill="none" stroke="#787878" stroke-width="1.7" stroke-linejoin="miter"/>
<path d="M503.85 1.45L828.75 1.45" fill="none" stroke="#383838" stroke-width="1.15"/>
</svg></body></html>
